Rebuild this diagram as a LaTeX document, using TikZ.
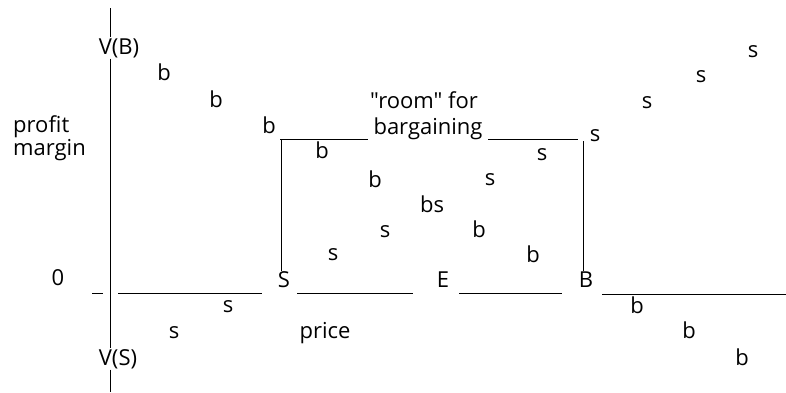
\documentclass[tikz,border=0pt]{standalone}
\usepackage{fontspec}
\setmainfont{Open Sans}[Ligatures={TeXOff,CommonOff}]
\begin{document}
\begin{tikzpicture}[x=1pt,y=-1pt,
  lbl/.style={inner sep=0pt,anchor=base,font=\fontsize{22}{26}\selectfont},
  lblw/.style={lbl,anchor=base west},
  axlbl/.style={lbl,fill=white,inner sep=1pt},
  ln/.style={line width=0.9pt}]
\useasboundingbox (0,0) rectangle (786,392);
% axis labels
\node[axlbl] (vb) at (119,54) {V(B)};
\node[axlbl] (vs) at (118,365) {V(S)};
\coordinate (axtop) at (110,8);
\coordinate (axbot) at (110,392);
\draw[ln] (axtop) -- (vb.north -| axtop);
\draw[ln] (vb.south -| axtop) -- (vs.north -| axtop);
\draw[ln] (vs.south -| axtop) -- (axbot);
\node[lblw] (pf) at (13,132) {prof\kern0pt it};
\node[lblw] (mg) at (13,155) {margin};
\node[lbl] (zero) at (58,285) {0};
\coordinate (t1) at (92,293); \coordinate (t2) at (103,293);
\draw[ln] (t1) -- (t2);
% baseline markers
\node[lbl] (S) at (284,287) {S};
\node[lbl] (E) at (443,287) {E};
\node[lbl] (B) at (586,287) {B};
\node[lbl] (price) at (325,338) {price};
% baseline segments
\coordinate (a1) at (118,293); \coordinate (a2) at (262,293);
\coordinate (b1) at (297,293); \coordinate (b2) at (413,293);
\coordinate (c1) at (459,293); \coordinate (c2) at (562,293);
\coordinate (d1) at (602,294); \coordinate (d2) at (786,294);
\draw[ln] (a1) -- (a2);
\draw[ln] (b1) -- (b2);
\draw[ln] (c1) -- (c2);
\draw[ln] (d1) -- (d2);
% room for bargaining
\node[lbl] (room) at (424,108) {"room" for};
\node[lbl] (barg) at (428,134) {bargaining};
\coordinate (L1) at (280,139); \coordinate (L2) at (368,139);
\coordinate (R1) at (488,139); \coordinate (R2) at (578,139);
\coordinate (lv) at (281,139); \coordinate (rv) at (583,141);
\draw[ln] (L1) -- (L2);
\draw[ln] (R1) -- (R2);
\draw[ln] (lv) -- (lv |- S.north);
\draw[ln] (rv) -- (rv |- B.north);
% buyer points
\node[lbl] (b01) at (164,80) {b};
\node[lbl] (b02) at (216,107) {b};
\node[lbl] (b03) at (269,133) {b};
\node[lbl] (b04) at (322,158) {b};
\node[lbl] (b05) at (375,187) {b};
\node[lbl] (bs) at (432,212) {bs};
\node[lbl] (b06) at (479,237) {b};
\node[lbl] (b07) at (533,262) {b};
\node[lbl] (b08) at (637,313) {b};
\node[lbl] (b09) at (689,338) {b};
\node[lbl] (b10) at (742,365) {b};
% seller points
\node[lbl] (s01) at (174,338) {s};
\node[lbl] (s02) at (228,312) {s};
\node[lbl] (s03) at (333,260) {s};
\node[lbl] (s04) at (385,237) {s};
\node[lbl] (s05) at (490,185) {s};
\node[lbl] (s06) at (542,160) {s};
\node[lbl] (s07) at (595,141) {s};
\node[lbl] (s08) at (647,108) {s};
\node[lbl] (s09) at (701,82) {s};
\node[lbl] (s10) at (753,57) {s};
\end{tikzpicture}
\end{document}
